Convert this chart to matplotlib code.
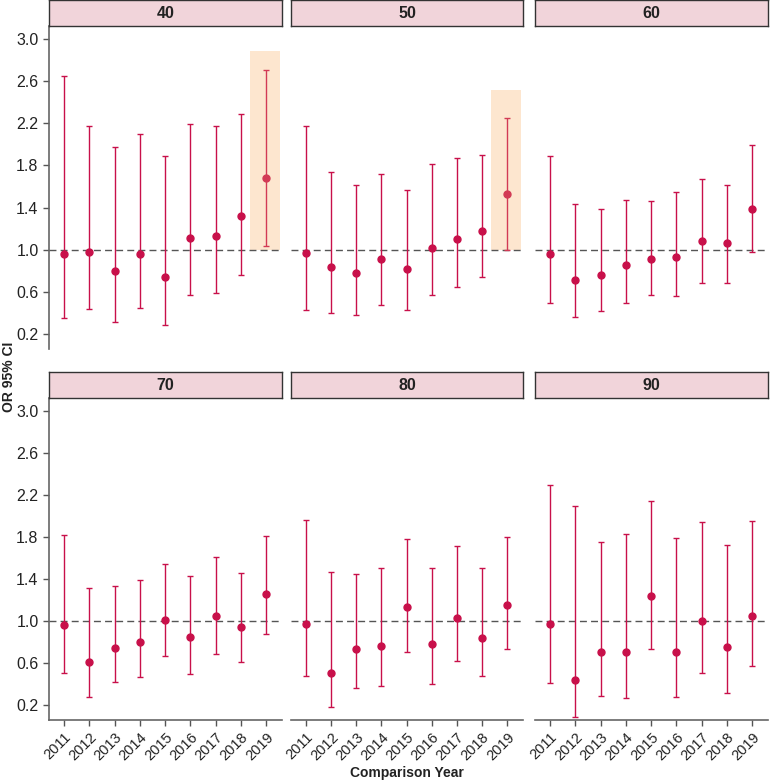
import matplotlib
matplotlib.use("Agg")
import matplotlib.pyplot as plt
from matplotlib.patches import Rectangle

plt.rcParams['font.family'] = ['Liberation Sans', 'DejaVu Sans']

years = [2011, 2012, 2013, 2014, 2015, 2016, 2017, 2018, 2019]
panels = ['40', '50', '60', '70', '80', '90']

# odds ratio and 95% CI per age panel
or_40 = [0.96, 0.98, 0.80, 0.96, 0.74, 1.11, 1.13, 1.32, 1.68]
lo_40 = [0.35, 0.44, 0.32, 0.45, 0.29, 0.57, 0.59, 0.76, 1.04]
hi_40 = [2.65, 2.17, 1.97, 2.10, 1.89, 2.19, 2.17, 2.29, 2.70]

or_50 = [0.97, 0.84, 0.78, 0.91, 0.82, 1.02, 1.10, 1.18, 1.53]
lo_50 = [0.43, 0.40, 0.38, 0.48, 0.43, 0.57, 0.65, 0.74, 1.00]
hi_50 = [2.17, 1.74, 1.61, 1.72, 1.57, 1.81, 1.87, 1.90, 2.25]

or_60 = [0.96, 0.71, 0.76, 0.86, 0.91, 0.93, 1.08, 1.06, 1.39]
lo_60 = [0.50, 0.36, 0.42, 0.50, 0.57, 0.56, 0.69, 0.69, 0.98]
hi_60 = [1.89, 1.43, 1.39, 1.47, 1.46, 1.55, 1.67, 1.61, 1.99]

or_70 = [0.96, 0.61, 0.74, 0.80, 1.01, 0.85, 1.05, 0.94, 1.26]
lo_70 = [0.51, 0.28, 0.42, 0.47, 0.67, 0.50, 0.69, 0.61, 0.88]
hi_70 = [1.82, 1.31, 1.33, 1.39, 1.54, 1.43, 1.61, 1.46, 1.81]

or_80 = [0.97, 0.51, 0.73, 0.76, 1.13, 0.78, 1.03, 0.84, 1.15]
lo_80 = [0.48, 0.18, 0.36, 0.38, 0.71, 0.40, 0.62, 0.48, 0.73]
hi_80 = [1.96, 1.47, 1.45, 1.50, 1.78, 1.50, 1.71, 1.50, 1.80]

or_90 = [0.97, 0.44, 0.71, 0.71, 1.24, 0.71, 1.00, 0.75, 1.05]
lo_90 = [0.41, 0.09, 0.29, 0.27, 0.73, 0.28, 0.51, 0.32, 0.57]
hi_90 = [2.29, 2.09, 1.75, 1.83, 2.14, 1.79, 1.94, 1.72, 1.95]

all_or = [or_40, or_50, or_60, or_70, or_80, or_90]
all_lo = [lo_40, lo_50, lo_60, lo_70, lo_80, lo_90]
all_hi = [hi_40, hi_50, hi_60, hi_70, hi_80, hi_90]

# highlighted year (panel -> top of shaded band)
highlight = {'40': 2.88, '50': 2.51}

W, H = 771, 781
fig = plt.figure(figsize=(W / 100, H / 100), dpi=100)

cols = [(49, 282), (291, 523), (535, 768)]
rows = [(0, 26, 349), (372, 398, 720)]

red = '#c8104a'
ylim = (0.06, 3.12)
yticks = [0.2, 0.6, 1.0, 1.4, 1.8, 2.2, 2.6, 3.0]

for i, name in enumerate(panels):
    r, c = divmod(i, 3)
    x0, x1 = cols[c]
    s0, a0, a1 = rows[r]
    ax = fig.add_axes([x0 / W, 1 - a1 / H, (x1 - x0) / W, (a1 - a0) / H])
    sax = fig.add_axes([x0 / W, 1 - a0 / H, (x1 - x0) / W, (a0 - s0) / H])

    # strip
    sax.set_xticks([])
    sax.set_yticks([])
    sax.set_facecolor('#f1d4da')
    for sp in sax.spines.values():
        sp.set_color('#333333')
        sp.set_linewidth(1.0)
    sax.text(0.5, 0.5, name, ha='center', va='center', fontsize=11.5,
             fontweight='bold', color='#222222', transform=sax.transAxes)

    if name in highlight:
        ax.add_patch(Rectangle((years[-1] - 0.65, 1.0), 1.2, highlight[name] - 1.0,
                               facecolor='#fde6cf', edgecolor='none', zorder=0))

    ax.axhline(1.0, color='#555555', lw=1.0, ls=(0, (5, 3)), zorder=1)

    ov, lo, hi = all_or[i], all_lo[i], all_hi[i]
    for j, yr in enumerate(years):
        col = red
        if name in highlight and yr == years[-1]:
            col = '#d23a55'
        ax.errorbar(yr, ov[j], yerr=[[ov[j] - lo[j]], [hi[j] - ov[j]]], fmt='o',
                    color=col, ecolor=col, elinewidth=1.0, capsize=2.5,
                    capthick=1.0, markersize=5, zorder=3)

    ax.set_xlim(2010.4, 2019.63)
    ax.set_ylim(*ylim)
    ax.set_facecolor('none')
    for sp in ax.spines.values():
        sp.set_visible(False)
    ax.tick_params(colors='#555555', labelcolor='#222222', length=4, width=1.0)

    if c == 0:
        ax.spines['left'].set_visible(True)
        ax.spines['left'].set_color('#666666')
        ax.spines['left'].set_linewidth(1.2)
        ax.set_yticks(yticks)
        ax.set_yticklabels([f'{v:.1f}' for v in yticks], fontsize=11.5)
    else:
        ax.set_yticks([])

    if r == 1:
        ax.spines['bottom'].set_visible(True)
        ax.spines['bottom'].set_color('#666666')
        ax.spines['bottom'].set_linewidth(1.2)
        ax.set_xticks(years)
        ax.set_xticklabels([str(y) for y in years], rotation=45, ha='right',
                           rotation_mode='anchor', fontsize=10.5)
    else:
        ax.set_xticks([])

fig.text(9 / W, 1 - 377 / H, 'OR 95% CI', rotation=90, ha='center', va='center',
         fontsize=10, fontweight='bold', color='#222222')
fig.text(407 / W, 1 - 773 / H, 'Comparison Year', ha='center', va='center',
         fontsize=10, fontweight='bold', color='#222222')

fig.savefig('out.png', dpi=100)
